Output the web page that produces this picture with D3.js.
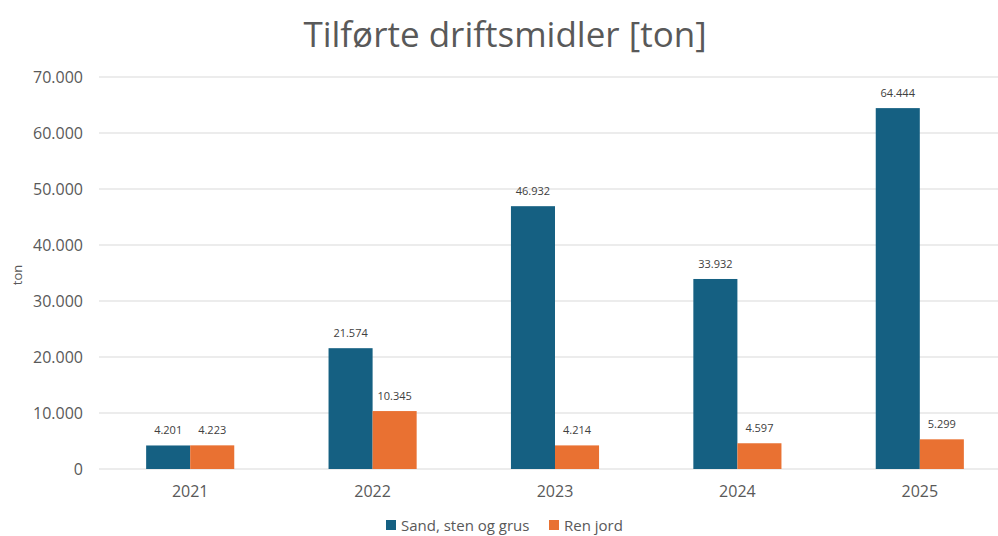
<!DOCTYPE html>
<html>
<head>
<meta charset="utf-8">
<script src="https://cdn.jsdelivr.net/npm/d3@7"></script>
<style>
  body { margin: 0; background: #fff; }
  text { font-family: "Open Sans", "Noto Sans", sans-serif; }
</style>
</head>
<body>
<div id="chart"></div>
<script>
const years = ["2021", "2022", "2023", "2024", "2025"];
const seriesNames = ["Sand, sten og grus", "Ren jord"];
const sand = [4201, 21574, 46932, 33932, 64444];
const jord = [4223, 10345, 4214, 4597, 5299];
const yTicks = [0, 10000, 20000, 30000, 40000, 50000, 60000, 70000];
const colorsList = ["#156082", "#E97132"];

const W = 998, H = 536;
const plot = { left: 99, right: 1011, top: 77, bottom: 469 };

const fmt = d3.formatLocale({ decimal: ",", thousands: ".", grouping: [3], currency: ["", ""] }).format(",d");

const svg = d3.select("#chart").append("svg")
    .attr("width", W)
    .attr("height", H);

const x0 = d3.scaleBand()
    .domain(years)
    .range([plot.left, plot.right])
    .paddingInner(0)
    .paddingOuter(0);

// two bars per year, centred in the band
const x1 = d3.scaleBand()
    .domain(seriesNames)
    .range([0, x0.bandwidth()])
    .paddingInner(0)
    .paddingOuter(1.07);

const y = d3.scaleLinear()
    .domain([0, 70000])
    .range([plot.bottom, plot.top]);

// gridlines
svg.append("g")
    .selectAll("line")
    .data(yTicks)
    .join("line")
    .attr("x1", plot.left)
    .attr("x2", plot.right)
    .attr("y1", d => y(d))
    .attr("y2", d => y(d))
    .attr("stroke", "#d9d9d9")
    .attr("stroke-width", 1);

// y axis labels
const yAxis = d3.axisLeft(y).tickValues(yTicks).tickFormat(fmt).tickSize(0).tickPadding(16);
const yg = svg.append("g")
    .attr("transform", `translate(${plot.left},0)`)
    .call(yAxis);
yg.select(".domain").remove();
yg.selectAll("text")
    .attr("fill", "#595959")
    .style("font-size", "16px");

// x axis labels
const xAxis = d3.axisBottom(x0).tickSize(0).tickPadding(17);
const xg = svg.append("g")
    .attr("transform", `translate(0,${plot.bottom})`)
    .call(xAxis);
xg.select(".domain").remove();
xg.selectAll("text")
    .attr("fill", "#595959")
    .style("font-size", "16px");

const table = years.map((yr, i) => ({ year: yr, values: [sand[i], jord[i]] }));

const groups = svg.append("g")
    .selectAll("g")
    .data(table)
    .join("g")
    .attr("transform", d => `translate(${x0(d.year)},0)`);

groups.selectAll("rect")
    .data(d => d.values.map((v, j) => ({ name: seriesNames[j], value: v, idx: j })))
    .join("rect")
    .attr("x", d => x1(d.name))
    .attr("width", x1.bandwidth())
    .attr("y", d => y(d.value))
    .attr("height", d => y(0) - y(d.value))
    .attr("fill", d => colorsList[d.idx]);

groups.selectAll("text.val")
    .data(d => d.values.map((v, j) => ({ name: seriesNames[j], value: v })))
    .join("text")
    .attr("class", "val")
    .attr("x", d => x1(d.name) + x1.bandwidth() / 2)
    .attr("y", d => y(d.value) - 11)
    .attr("text-anchor", "middle")
    .attr("fill", "#404040")
    .style("font-size", "11px")
    .text(d => fmt(d.value));

// title
svg.append("text")
    .attr("x", 505)
    .attr("y", 47)
    .attr("text-anchor", "middle")
    .attr("fill", "#595959")
    .style("font-size", "35px")
    .text("Tilførte driftsmidler [ton]");

// y axis title
svg.append("text")
    .attr("transform", `translate(22,${(plot.top + plot.bottom) / 2 + 2}) rotate(-90)`)
    .attr("text-anchor", "middle")
    .attr("fill", "#595959")
    .style("font-size", "13px")
    .text("ton");

// legend
const legend = svg.append("g").attr("transform", "translate(386,531)");
const items = legend.selectAll("g")
    .data(seriesNames)
    .join("g")
    .attr("transform", (d, i) => `translate(${i === 0 ? 0 : 163},0)`);
items.append("rect")
    .attr("x", 0)
    .attr("y", -11)
    .attr("width", 10)
    .attr("height", 10)
    .attr("fill", (d, i) => colorsList[i]);
items.append("text")
    .attr("x", 15)
    .attr("y", 0)
    .attr("fill", "#595959")
    .style("font-size", "15px")
    .text(d => d);
</script>
</body>
</html>
